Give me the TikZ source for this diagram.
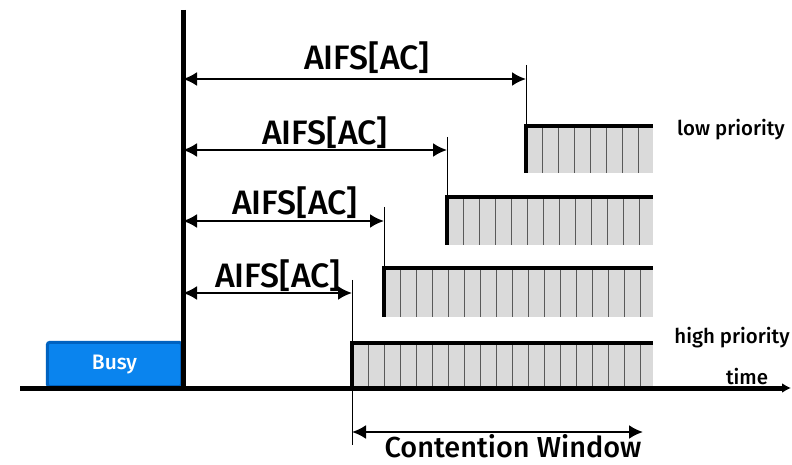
\documentclass[tikz,border=0pt]{standalone}
\usepackage{fontspec}
\setmainfont{Open Sans}
\newfontface\medium{Fira Sans Medium}
\usetikzlibrary{arrows.meta}
\definecolor{busyblue}{HTML}{0A84EE}
\definecolor{busyedge}{HTML}{0062C0}
\definecolor{slotgray}{HTML}{DADADA}
\tikzstyle{edca}=[
  x=1bp,y=-1bp,line cap=butt,line join=miter
]
\tikzstyle{axis}=[
  line width=5bp,-{Latex[length=9bp,width=10bp]}
]
\tikzstyle{span}=[
  line width=2.2bp,{Latex[length=14bp,width=14bp]}-{Latex[length=14bp,width=14bp]}
]
\tikzstyle{tick}=[
  line width=1bp
]
\tikzstyle{slotline}=[
  line width=0.8bp,draw=black!65
]
\tikzstyle{slotedge}=[
  line width=4bp
]
\tikzstyle{aifs}=[
  font=\medium\fontsize{34}{34}\selectfont,inner sep=0pt,anchor=base
]
\tikzstyle{tag}=[
  font=\medium\fontsize{20.5}{21}\selectfont,inner sep=0pt
]
\tikzstyle{busybox}=[
  draw=busyedge,fill=busyblue,line width=3bp,rounded corners=2bp,
  text=white,font=\medium\fontsize{21}{21}\selectfont
]
% one row of backoff slots: start x, top, bottom, number of slot lines
\newcommand{\cwblock}[4]{
  \fill[slotgray] (#1,#2) rectangle (653,#3);
  \foreach \k in {1,...,#4}
    \draw[slotline] ({#1+16*\k},#2) -- ({#1+16*\k},#3);
  \draw[slotedge] (#1,#3) -- (#1,#2) -- (653,#2);
}

\begin{document}
\begin{tikzpicture}[edca]
  \useasboundingbox (0,0) rectangle (792,465);

  % busy medium
  \node (busy) at (114.5,364.5) [busybox,minimum width=134bp,minimum height=44bp] {Busy};

  % slot rows, high priority at the bottom
  \cwblock{352}{343}{388}{18}
  \cwblock{384}{268}{317}{16}
  \cwblock{447}{197}{245}{12}
  \cwblock{526}{126}{173}{7}

  % time axis and end of busy period
  \coordinate (t0) at (20,388);
  \coordinate (t1) at (791,388);
  \coordinate (b0) at (183,10);
  \coordinate (b1) at (183,390.5);
  \draw[axis] (t0) -- (t1);
  \draw[line width=5bp] (b0) -- (b1);

  % AIFS spans
  \coordinate (m4) at (526,65);  \coordinate (s4) at (526,126);
  \coordinate (m3) at (447,137); \coordinate (s3) at (447,197);
  \coordinate (m2) at (384,207); \coordinate (s2) at (384,268);
  \coordinate (m1) at (352,280); \coordinate (s1) at (352,445);
  \foreach \i in {1,...,4}
    \draw[tick] (m\i) -- (s\i);

  \coordinate (a4l) at (183,79);  \coordinate (a4r) at (526,79);
  \coordinate (a3l) at (183,150); \coordinate (a3r) at (447,150);
  \coordinate (a2l) at (183,221); \coordinate (a2r) at (384,221);
  \coordinate (a1l) at (183,293); \coordinate (a1r) at (352,293);
  \foreach \i in {1,...,4}
    \draw[span] (a\i l) -- (a\i r);

  \node (aifs4) at (367,70) [aifs] {AIFS[AC]};
  \node (aifs3) at (325,145) [aifs] {AIFS[AC]};
  \node (aifs2) at (295,215) [aifs] {AIFS[AC]};
  \node (aifs1) at (278,288) [aifs] {AIFS[AC]};

  % contention window
  \coordinate (cw0) at (352,432);
  \coordinate (cw1) at (643,432);
  \draw[span] (cw0) -- (cw1);
  \node (cw) at (513,457) [anchor=base,inner sep=0pt,font=\medium\fontsize{29}{29}\selectfont] {Contention Window};

  \node (low) at (731,130) [tag] {low priority};
  \node (high) at (732,338) [tag] {high priority};
  \node (time) at (747,377) [tag] {time};
\end{tikzpicture}
\end{document}
